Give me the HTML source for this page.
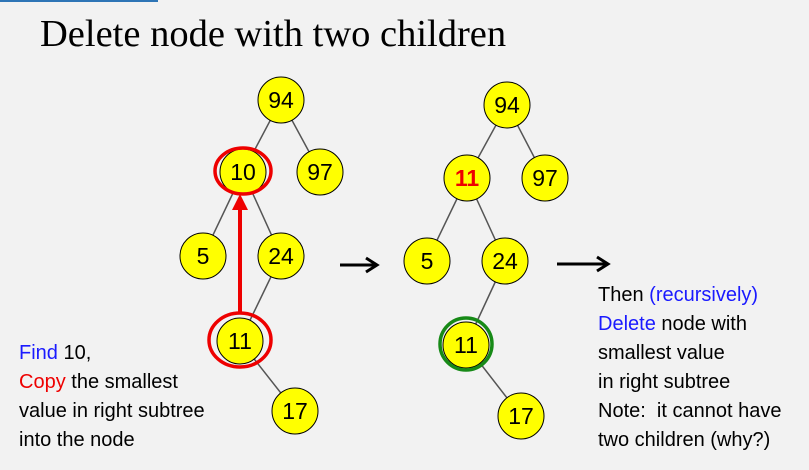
<!DOCTYPE html>
<html><head><style>
body{margin:0;width:809px;height:470px;background:#f2f2f2;overflow:hidden;position:relative;font-family:"Liberation Sans",sans-serif}
.t{position:absolute;font-size:20px;line-height:29px;color:#000}
</style></head><body>
<div style="position:absolute;left:0;top:0;width:158px;height:2px;background:#2e75b6"></div>
<div style="position:absolute;left:40px;top:12px;font-family:'Liberation Serif',serif;font-size:38.5px;color:#000;white-space:nowrap">Delete node with two children</div>
<svg width="809" height="470" style="position:absolute;left:0;top:0" font-family="Liberation Sans, sans-serif" font-size="23">
<g stroke="#555" stroke-width="1.5">
<line x1="281" y1="100" x2="243" y2="172"/><line x1="281" y1="100" x2="320" y2="172"/>
<line x1="243" y1="172" x2="203" y2="256"/><line x1="243" y1="172" x2="281" y2="256"/>
<line x1="281" y1="256" x2="240" y2="341"/><line x1="240" y1="341" x2="295" y2="411"/>
<line x1="507" y1="105" x2="467" y2="178"/><line x1="507" y1="105" x2="545" y2="178"/>
<line x1="467" y1="178" x2="427" y2="261"/><line x1="467" y1="178" x2="505" y2="261"/>
<line x1="505" y1="261" x2="466" y2="345"/><line x1="466" y1="345" x2="521" y2="416"/>
</g>
<g fill="#ffff00" stroke="#000" stroke-width="1">
<circle cx="281" cy="100" r="23"/><circle cx="243" cy="172" r="23"/><circle cx="320" cy="172" r="23"/>
<circle cx="203" cy="256" r="23"/><circle cx="281" cy="256" r="23"/><circle cx="240" cy="341" r="23"/><circle cx="295" cy="411" r="23"/>
<circle cx="507" cy="105" r="23"/><circle cx="467" cy="178" r="23"/><circle cx="545" cy="178" r="23"/>
<circle cx="427" cy="261" r="23"/><circle cx="505" cy="261" r="23"/><circle cx="466" cy="345" r="23"/><circle cx="521" cy="416" r="23"/>
</g>
<g text-anchor="middle" fill="#000">
<text x="281" y="108">94</text><text x="243" y="180">10</text><text x="320" y="180">97</text>
<text x="203" y="264">5</text><text x="281" y="264">24</text><text x="240" y="349">11</text><text x="295" y="419">17</text>
<text x="507" y="113">94</text><text x="467" y="186" fill="#e00" font-weight="bold">11</text><text x="545" y="186">97</text>
<text x="427" y="269">5</text><text x="505" y="269">24</text><text x="466" y="353">11</text><text x="521" y="424">17</text>
</g>
<ellipse cx="243" cy="171" rx="28" ry="23" fill="none" stroke="#e00" stroke-width="3.5"/>
<ellipse cx="240" cy="340" rx="31" ry="27" fill="none" stroke="#e00" stroke-width="3.5"/>
<circle cx="466" cy="344" r="26" fill="none" stroke="#178a17" stroke-width="3.5"/>
<line x1="240" y1="313" x2="240" y2="208" stroke="#e00" stroke-width="4"/>
<polygon points="232,210 248,210 240,194" fill="#e00"/>
<g stroke="#000" stroke-width="3" fill="none">
<line x1="340" y1="265" x2="376" y2="265"/><polyline points="366,258 377,265 366,272"/>
<line x1="557" y1="264" x2="607" y2="264"/><polyline points="597,257 608,264 597,271"/>
</g>
</svg>
<div class="t" style="left:19px;top:339px"><span style="color:#1a1aff">Find</span> 10,<br><span style="color:#e00">Copy</span> the smallest<br>value in right subtree<br>into the node</div>
<div class="t" style="left:598px;top:281px;white-space:nowrap">Then <span style="color:#1a1aff">(recursively)</span><br><span style="color:#1a1aff">Delete</span> node with<br>smallest value<br>in right subtree<br>Note:&nbsp; it cannot have<br>two children (why?)</div>
</body></html>
